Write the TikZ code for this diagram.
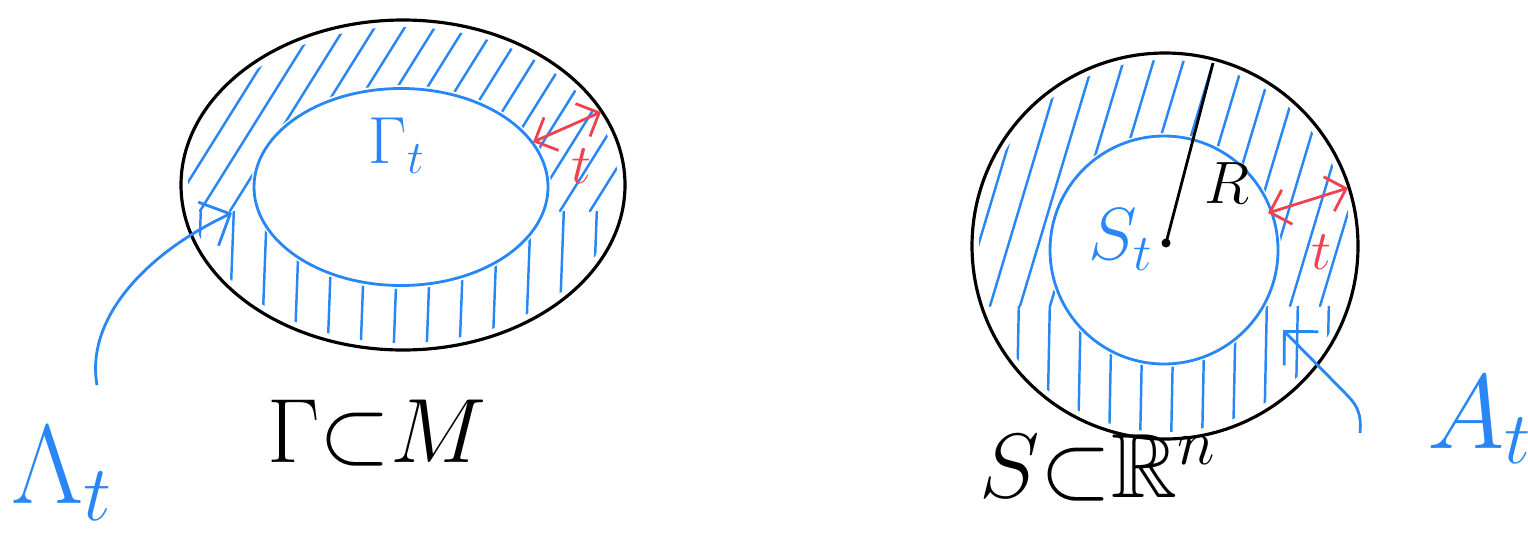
\documentclass[tikz,border=0pt]{standalone}
\usepackage{fix-cm}
\usepackage{amsmath,amssymb}
\usetikzlibrary{arrows.meta}
\definecolor{penblue}{RGB}{40,135,245}
\definecolor{penred}{RGB}{240,65,80}
\newcommand{\fsz}[1]{\fontsize{#1}{#1}\selectfont}

\begin{document}
\begin{tikzpicture}[
    rim/.style={line width=0.9pt, black},
    bnd/.style={line width=0.8pt, penblue},
    hatch/.style={line width=0.7pt, penblue, line cap=round},
    gap/.style={{Straight Barb[length=1.8mm]}-{Straight Barb[length=1.8mm]}, line width=0.8pt, penred},
    ptr/.style={-{Straight Barb[length=2.4mm]}, line width=0.8pt, penblue},
    lbl/.style={inner sep=0pt}
]
    \useasboundingbox (0,0) rectangle (15.28,5.36);

    % Left annulus hatching (slanted on top, upright below)
    \begin{scope}[even odd rule]
        \clip (4.03,3.51) ellipse (2.15 and 1.58) (4.01,3.49) ellipse (1.50 and 1.02);
        \clip (0,3.25) rectangle (7,5.3);
        \foreach \x in {0.5,0.8,...,6.4}
            \draw[hatch] (\x,3.25) -- ++(1.25,2.0);
    \end{scope}
    \begin{scope}[even odd rule]
        \clip (4.03,3.51) ellipse (2.15 and 1.58) (4.01,3.49) ellipse (1.50 and 1.02);
        \clip (0,1.5) rectangle (7,3.25);
        \foreach \x in {1.95,2.28,...,6.2}
            \draw[hatch] (\x,1.7) -- ++(0.06,1.6);
    \end{scope}

    % Left: outer and inner boundary
    \draw[rim] (4.03,3.51) ellipse (2.22 and 1.65);
    \draw[bnd] (4.01,3.49) ellipse (1.47 and 0.985);

    % Right annulus hatching
    \begin{scope}[even odd rule]
        \clip (11.65,2.90) circle (1.86) (11.64,2.86) circle (1.17);
        \clip (9,2.3) rectangle (14,5);
        \foreach \x in {9.0,9.3,...,13.7}
            \draw[hatch] (\x,2.3) -- ++(0.75,2.5);
    \end{scope}
    \begin{scope}[even odd rule]
        \clip (11.65,2.90) circle (1.86) (11.64,2.86) circle (1.17);
        \clip (9,0.8) rectangle (14,2.3);
        \foreach \x in {9.85,10.16,...,13.5}
            \draw[hatch] (\x,0.9) -- ++(0.03,1.5);
    \end{scope}

    % Right: outer and inner circle
    \draw[rim] (11.65,2.90) circle (1.93);
    \draw[bnd] (11.64,2.86) circle (1.14);

    % Radius
    \coordinate (cen) at (11.66,2.93);
    \coordinate (rEnd) at (12.13,4.73);
    \draw[line width=0.8pt] (cen) -- (rEnd);
    \fill (cen) circle (0.045);
    \node[lbl] (rLbl) at (12.27,3.53) {\fsz{17}$R$};

    % Width t, red
    \coordinate (gapL1) at (5.33,3.94);
    \coordinate (gapL2) at (6.01,4.24);
    \draw[gap] (gapL1) -- (gapL2);
    \node[lbl, penred] (tLeft) at (5.81,3.70) {\fsz{16}$t$};
    \coordinate (gapR1) at (12.68,3.23);
    \coordinate (gapR2) at (13.48,3.48);
    \draw[gap] (gapR1) -- (gapR2);
    \node[lbl, penred] (tRight) at (13.21,2.84) {\fsz{16}$t$};

    % Inner labels
    \node[lbl, penblue] (gammaT) at (3.97,3.90) {\fsz{19}$\Gamma_t$};
    \node[lbl, penblue] (sT) at (11.21,2.96) {\fsz{21}$S_t$};

    % Bottom labels
    \node[lbl] (gamM) at (3.77,1.03) {\fsz{26}$\Gamma{\subset}M$};
    \node[lbl] (sRn) at (10.98,0.68) {\fsz{26}$S{\subset}\mathbb{R}^n$};
    \node[lbl, penblue] (lamT) at (0.62,0.62) {\fsz{32}$\Lambda_t$};
    \node[lbl, penblue] (aT) at (14.80,1.16) {\fsz{30}$A_t$};

    % Pointers
    \coordinate (lamFrom) at (0.97,1.51);
    \coordinate (lamTo) at (2.32,3.23);
    \draw[ptr] (lamFrom) .. controls (0.85,2.2) and (1.5,2.85) .. (lamTo);
    \coordinate (aFrom) at (13.60,1.03);
    \coordinate (aTo) at (12.83,2.06);
    \draw[ptr] (aFrom) .. controls (13.62,1.25) and (13.55,1.33) .. (13.45,1.43) -- (aTo);
\end{tikzpicture}
\end{document}
